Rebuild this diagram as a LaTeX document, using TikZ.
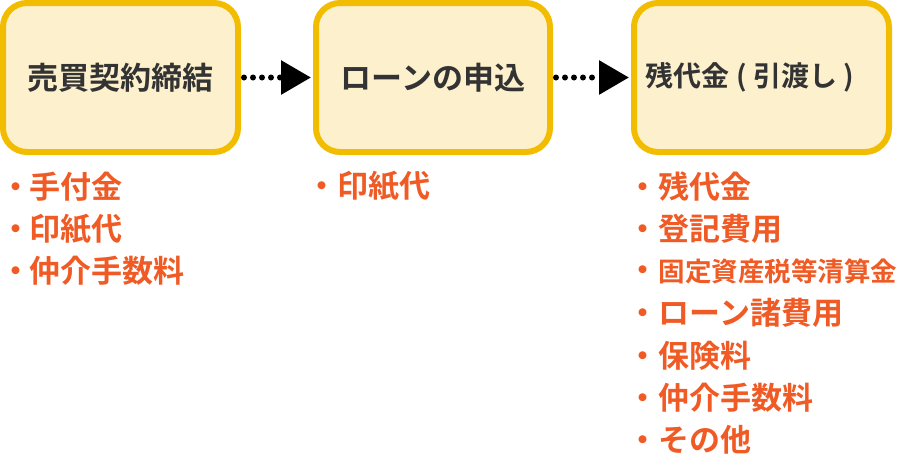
\documentclass[tikz,border=0pt]{standalone}
\usepackage{fontspec}
\newfontfamily\jpfont{Noto Sans CJK JP Bold}
\usepackage{xcolor}
\usepackage{tikz}
\usetikzlibrary{arrows.meta}

\definecolor{boxline}{HTML}{F2BD00}
\definecolor{boxfill}{HTML}{FDF0CD}
\definecolor{costtext}{HTML}{F05A24}
\definecolor{steptext}{HTML}{333333}

\begin{document}
\begin{tikzpicture}[x=1pt, y=-1pt,
    stepbox/.style={draw=boxline, fill=boxfill, line width=6pt, rounded corners=24pt,
      minimum height=149pt, text=steptext, font=\jpfont\fontsize{31}{37}\selectfont},
    flow/.style={line width=6pt, line cap=round, dash pattern=on 0pt off 9pt,
      shorten <=3pt, shorten >=2pt, -{Triangle[length=30pt, width=33pt]}},
    item/.style={anchor=west, inner sep=0pt, text=costtext,
      font=\jpfont\fontsize{31}{37}\selectfont}]
    \useasboundingbox (0,0) rectangle (898,456);
    \node[stepbox, minimum width=235pt] (sign) at (120.5,77.5) {売買契約締結};
    \node[stepbox, minimum width=234pt] (loan) at (433,77.5) {ローンの申込};
    \node[stepbox, minimum width=255pt, font=\jpfont\fontsize{28}{34}\selectfont]
      (settle) at (761.5,77.5) {残代金 ( 引渡し )\hspace*{23pt}};
    \path
      (sign) edge[flow] (loan)
      (loan) edge[flow] (settle);
    % costs at each step
    \foreach \txt [count=\i] in {手付金, 印紙代, 仲介手数料}
      \node[item] (signcost\i) at (0,{186.5+42.25*(\i-1)}) {・\kern-2pt\txt};
    \node[item] (loancost1) at (306,186.5) {・印紙代};
    \foreach \txt [count=\i] in {残代金, 登記費用, {\fontsize{26.5}{32}\selectfont 固定資産税等清算金},
        ローン諸費用, 保険料, 仲介手数料, その他}
      \node[item] (settlecost\i) at (627.5,{186.5+42.25*(\i-1)}) {・\txt};
\end{tikzpicture}
\end{document}
